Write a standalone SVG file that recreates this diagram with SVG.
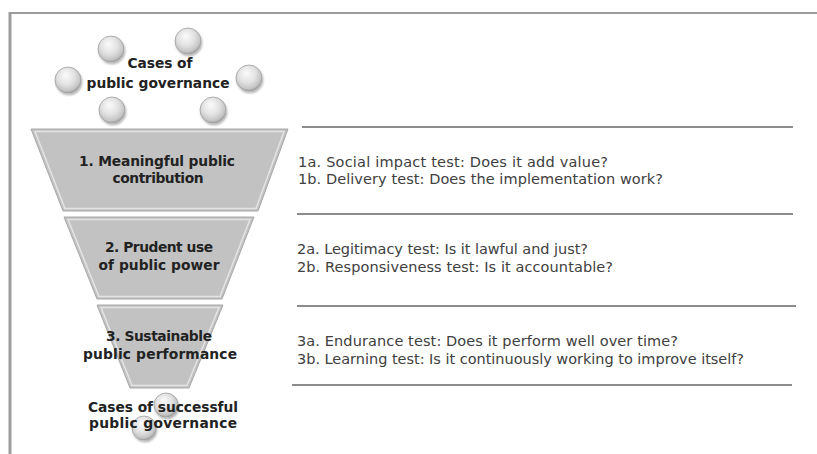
<svg xmlns="http://www.w3.org/2000/svg" width="817" height="454" viewBox="0 0 817 454">
  <defs>
    <radialGradient id="bead" cx="0.45" cy="0.4" r="0.6" fx="0.4" fy="0.3">
      <stop offset="0" stop-color="#fbfbfb"/>
      <stop offset="0.55" stop-color="#e2e2e2"/>
      <stop offset="0.88" stop-color="#c4c4c4"/>
      <stop offset="1" stop-color="#9e9e9e"/>
    </radialGradient>
    <filter id="soft" x="-30%" y="-30%" width="160%" height="160%">
      <feGaussianBlur in="SourceAlpha" stdDeviation="1.2"/>
      <feOffset dx="1" dy="1.5" result="b"/>
      <feComponentTransfer><feFuncA type="linear" slope="0.3"/></feComponentTransfer>
      <feMerge><feMergeNode/><feMergeNode in="SourceGraphic"/></feMerge>
    </filter>
  </defs>
  <style>
    .frame { stroke: #9c9c9c; fill: none; }
    .rule { stroke: #8c8c8c; stroke-width: 2; fill: none; }
    .stage { fill: #c2c2c2; stroke: #a8a8a8; stroke-width: 1; }
    .bevel { fill: none; stroke: #e4e4e4; stroke-width: 1.5; }
    .bead { fill: url(#bead); stroke: #a0a0a0; stroke-width: 0.8; filter: url(#soft); }
    .label { font-family: "DejaVu Sans", "Liberation Sans", sans-serif; font-weight: bold; font-size: 13.8px; fill: #222; text-anchor: middle; }
    .test { font-family: "DejaVu Sans", "Liberation Sans", sans-serif; font-size: 14.5px; fill: #404040; }
  </style>

  <rect width="817" height="454" fill="#ffffff"/>

  <!-- page frame -->
  <g id="frame">
    <line class="frame" x1="10" y1="12" x2="10" y2="454" stroke-width="3"/>
    <line class="frame" x1="10" y1="13" x2="817" y2="13" stroke-width="2" stroke="#a8a8a8"/>
  </g>

  <!-- input: cases of public governance -->
  <g id="cases-in">
    <circle class="bead" cx="111" cy="49" r="13"/>
    <circle class="bead" cx="188" cy="41" r="13"/>
    <circle class="bead" cx="68" cy="80" r="13"/>
    <circle class="bead" cx="249" cy="78" r="13"/>
    <circle class="bead" cx="112" cy="110" r="13"/>
    <circle class="bead" cx="213" cy="110" r="13"/>
    <text class="label" x="160" y="68" textLength="65">Cases of</text>
    <text class="label" x="158" y="88" textLength="143">public governance</text>
  </g>

  <!-- funnel stage 1 -->
  <g id="stage-1">
    <polygon class="stage" points="31,129 288,129 258,211 63,211"/>
    <polygon class="bevel" points="35,131.5 284,131.5 256,208.5 65,208.5"/>
    <text class="label" x="157" y="166" textLength="156">1. Meaningful public</text>
    <text class="label" x="158" y="183" textLength="91">contribution</text>
  </g>

  <!-- funnel stage 2 -->
  <g id="stage-2">
    <polygon class="stage" points="64,217 254,217 222,299 97,299"/>
    <polygon class="bevel" points="68,219.5 250,219.5 220,296.5 99,296.5"/>
    <text class="label" x="159" y="252" textLength="108">2. Prudent use</text>
    <text class="label" x="159" y="270" textLength="121">of public power</text>
  </g>

  <!-- funnel stage 3 -->
  <g id="stage-3">
    <polygon class="stage" points="97,305 223,305 189,388 130,388"/>
    <polygon class="bevel" points="101,307.5 219,307.5 187,385.5 132,385.5"/>
    <text class="label" x="159" y="341" textLength="106">3. Sustainable</text>
    <text class="label" x="160" y="359" textLength="154">public performance</text>
  </g>

  <!-- output: successful cases -->
  <g id="cases-out">
    <circle class="bead" cx="166" cy="405" r="12"/>
    <circle class="bead" cx="144" cy="428" r="12"/>
    <text class="label" x="163" y="412" textLength="150">Cases of successful</text>
    <text class="label" x="163" y="428" textLength="148">public governance</text>
  </g>

  <!-- dividers between the test descriptions -->
  <g id="connectors">
    <line class="rule" x1="302" y1="127" x2="793" y2="127"/>
    <line class="rule" x1="297" y1="214" x2="793" y2="214"/>
    <line class="rule" x1="297" y1="306" x2="796" y2="306"/>
    <line class="rule" x1="292" y1="385" x2="792" y2="385"/>
  </g>

  <!-- test descriptions -->
  <g id="tests-1">
    <text class="test" x="298" y="167" textLength="310">1a. Social impact test: Does it add value?</text>
    <text class="test" x="298" y="184" textLength="365">1b. Delivery test: Does the implementation work?</text>
  </g>
  <g id="tests-2">
    <text class="test" x="297" y="254" textLength="291">2a. Legitimacy test: Is it lawful and just?</text>
    <text class="test" x="297" y="272" textLength="316">2b. Responsiveness test: Is it accountable?</text>
  </g>
  <g id="tests-3">
    <text class="test" x="297" y="346" textLength="381">3a. Endurance test: Does it perform well over time?</text>
    <text class="test" x="297" y="364" textLength="447">3b. Learning test: Is it continuously working to improve itself?</text>
  </g>
</svg>
